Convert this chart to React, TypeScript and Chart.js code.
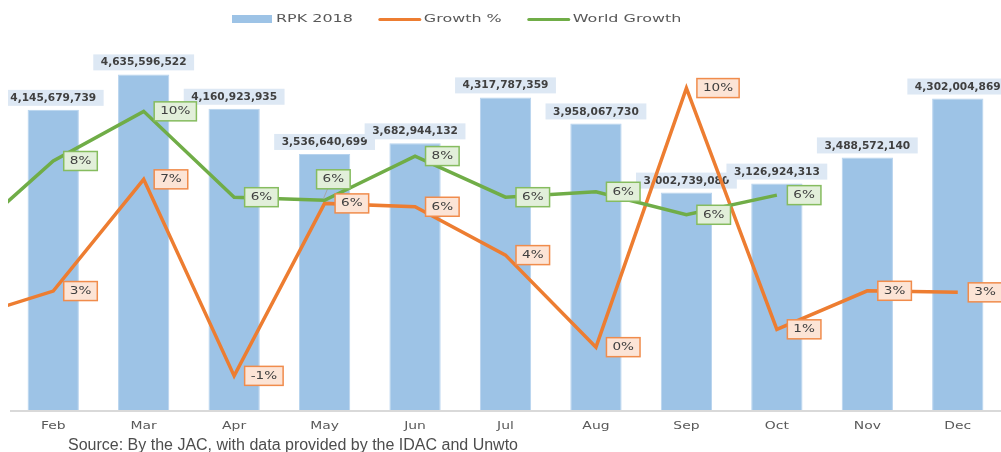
import React, { useEffect, useRef } from "react";
import { Chart, registerables } from "chart.js";

Chart.register(...registerables);

// Months shown on the category axis.
const months = ["Feb", "Mar", "Apr", "May", "Jun", "Jul", "Aug", "Sep", "Oct", "Nov", "Dec"];
// The growth lines start one month earlier, so the segment entering from the left edge is drawn.
const lineMonths = ["Jan", ...months];

const rpk2018 = [
  4145679739, 4635596522, 4160923935, 3536640699, 3682944132, 4317787359,
  3958067730, 3002739080, 3126924313, 3488572140, 4302004869,
];
// Percent values, Jan..Dec
const growthPct = [1.5, 2.6, 6.92, -0.68, 5.99, 5.86, 3.99, 0.43, 10.45, 1.12, 2.61, 2.55];
// Percent values, Jan..Oct
const worldGrowthPct = [4.5, 7.63, 9.55, 6.23, 6.11, 7.82, 6.23, 6.44, 5.55, 6.31];

const legendLabels = ["RPK 2018", "Growth %", "World Growth"];
const sourceNote = "Source: By the JAC, with data provided by the IDAC and Unwto";

const BAR_BLUE = "#9dc3e6";
const ORANGE = "#ed7d31";
const GREEN = "#70ad47";
const TEXT_GREY = "#404040";
const LEGEND_GREY = "#595959";

// Label boxes that sit somewhere other than right of their point.
const labelNudges = [{ dataset: 2, index: 4, dx: -8, dy: -21, leader: true }];

function stretchedText(
  ctx: CanvasRenderingContext2D,
  text: string,
  x: number,
  y: number,
  font: string,
  color: string,
  sx: number,
  align: "left" | "center"
): number {
  ctx.save();
  ctx.font = font;
  ctx.fillStyle = color;
  ctx.textBaseline = "middle";
  ctx.textAlign = "left";
  const w = ctx.measureText(text).width * sx;
  const left = align === "center" ? x - w / 2 : x;
  ctx.translate(left, y);
  ctx.scale(sx, 1);
  ctx.fillText(text, 0, 0);
  ctx.restore();
  return w;
}

function textWidth(ctx: CanvasRenderingContext2D, text: string, font: string, sx: number) {
  ctx.save();
  ctx.font = font;
  const w = ctx.measureText(text).width * sx;
  ctx.restore();
  return w;
}

const decorations = {
  id: "decorations",
  beforeDatasetsDraw(chart: any) {
    const { ctx, chartArea } = chart;
    // category axis line
    ctx.save();
    ctx.strokeStyle = "#d9d9d9";
    ctx.lineWidth = 2;
    ctx.beginPath();
    ctx.moveTo(chartArea.left + 2, chartArea.bottom + 1);
    ctx.lineTo(chartArea.right, chartArea.bottom + 1);
    ctx.stroke();
    ctx.restore();
  },
  afterDatasetDraw(chart: any, args: any) {
    if (args.index !== 0) return;
    const { ctx } = chart;
    const font = "bold 10px 'DejaVu Sans'";
    const sx = 1.06;
    args.meta.data.forEach((bar: any, i: number) => {
      const text = rpk2018[i].toLocaleString("en-US");
      const w = textWidth(ctx, text, font, sx) + 15;
      const h = 16;
      const bottom = bar.y - 4;
      ctx.save();
      ctx.fillStyle = "#dde8f4";
      ctx.fillRect(bar.x - w / 2, bottom - h, w, h);
      ctx.restore();
      stretchedText(ctx, text, bar.x, bottom - h / 2 + 0.5, font, TEXT_GREY, sx, "center");
    });
  },
  afterDatasetsDraw(chart: any) {
    const { ctx, chartArea } = chart;
    const series = [
      { ds: 1, values: growthPct, stroke: "#f08c4c", fill: "#fce4d6" },
      { ds: 2, values: worldGrowthPct, stroke: "#86bc5f", fill: "#e2efda" },
    ];
    const font = "10px 'DejaVu Sans'";
    const sx = 1.36;
    series.forEach((s) => {
      const meta = chart.getDatasetMeta(s.ds);
      s.values.forEach((v, i) => {
        if (i === 0 || v === null) return;
        const pt = meta.data[i];
        if (!pt) return;
        const text = `${Math.round(v)}%`;
        const w = textWidth(ctx, text, font, sx) + 12;
        const h = 19;
        const nudge = labelNudges.find((n) => n.dataset === s.ds && n.index === i);
        const left = pt.x + (nudge ? nudge.dx : 10.5);
        const cy = pt.y + (nudge ? nudge.dy : 0);
        if (nudge && nudge.leader) {
          ctx.save();
          ctx.strokeStyle = "#a6a6a6";
          ctx.lineWidth = 1;
          ctx.beginPath();
          ctx.moveTo(pt.x - 1, pt.y - 2);
          ctx.lineTo(pt.x + 3, cy + h / 2);
          ctx.stroke();
          ctx.restore();
        }
        ctx.save();
        ctx.fillStyle = s.fill;
        ctx.strokeStyle = s.stroke;
        ctx.lineWidth = 1.5;
        ctx.fillRect(left, cy - h / 2, w, h);
        ctx.strokeRect(left, cy - h / 2, w, h);
        ctx.restore();
        stretchedText(ctx, text, left + w / 2, cy + 0.5, font, TEXT_GREY, sx, "center");
      });
    });

    // month labels under the axis
    const xScale = chart.scales.x;
    months.forEach((m, i) => {
      stretchedText(
        ctx, m, xScale.getPixelForValue(i), chartArea.bottom + 16,
        "9.8px 'DejaVu Sans'", LEGEND_GREY, 1.42, "center"
      );
    });

    // legend
    const lFont = "11px 'DejaVu Sans'";
    const lSx = 1.45;
    const ly = 19.5;
    let x = 224;
    ctx.save();
    ctx.fillStyle = BAR_BLUE;
    ctx.fillRect(x, 15, 40, 8);
    ctx.restore();
    x += 44;
    x += stretchedText(ctx, legendLabels[0], x, ly, lFont, LEGEND_GREY, lSx, "left");
    [
      { color: ORANGE, label: legendLabels[1] },
      { color: GREEN, label: legendLabels[2] },
    ].forEach((item) => {
      x += 27;
      ctx.save();
      ctx.strokeStyle = item.color;
      ctx.lineWidth = 3;
      ctx.lineCap = "round";
      ctx.beginPath();
      ctx.moveTo(x, ly);
      ctx.lineTo(x + 40, ly);
      ctx.stroke();
      ctx.restore();
      x += 44;
      x += stretchedText(ctx, item.label, x, ly, lFont, LEGEND_GREY, lSx, "left");
    });

    // source note
    ctx.save();
    ctx.font = "16px 'Liberation Sans', Arial, sans-serif";
    ctx.fillStyle = "#4d4d4d";
    ctx.textBaseline = "alphabetic";
    ctx.fillText(sourceNote, 60, 450);
    ctx.restore();
  },
};

export default function App() {
  const canvasRef = useRef<HTMLCanvasElement | null>(null);

  useEffect(() => {
    const canvas = canvasRef.current;
    if (!canvas) return;
    const chart = new Chart(canvas, {
      type: "bar",
      data: {
        labels: months,
        datasets: [
          {
            type: "bar",
            label: legendLabels[0],
            data: rpk2018,
            xAxisID: "x",
            yAxisID: "y",
            backgroundColor: BAR_BLUE,
            borderColor: "#b7d3ee",
            borderWidth: 1,
            grouped: false,
            barPercentage: 0.567,
            categoryPercentage: 1,
            order: 3,
          },
          {
            type: "line",
            label: legendLabels[1],
            data: growthPct.map((v, i) => ({ x: i, y: v, month: lineMonths[i] })),
            xAxisID: "x2",
            yAxisID: "y1",
            borderColor: ORANGE,
            borderWidth: 3.5,
            borderJoinStyle: "miter",
            pointRadius: 0,
            tension: 0,
            order: 2,
          },
          {
            type: "line",
            label: legendLabels[2],
            data: worldGrowthPct.map((v, i) => ({ x: i, y: v, month: lineMonths[i] })),
            xAxisID: "x2",
            yAxisID: "y1",
            borderColor: GREEN,
            borderWidth: 3.5,
            borderJoinStyle: "miter",
            pointRadius: 0,
            tension: 0,
            order: 1,
          },
        ],
      } as any,
      options: {
        responsive: false,
        maintainAspectRatio: false,
        animation: false,
        devicePixelRatio: 1,
        layout: { padding: { top: 48, bottom: 42, left: 0, right: 0 } },
        plugins: {
          legend: { display: false },
          tooltip: { enabled: false },
        },
        scales: {
          x: { type: "category", display: false, offset: true },
          x2: { type: "linear", display: false, offset: false, min: 0.5, max: 11.5 },
          y: { type: "linear", display: false, min: 0, max: 5000000000 },
          y1: { type: "linear", display: false, min: -2, max: 12 },
        },
      } as any,
      plugins: [decorations],
    });
    return () => chart.destroy();
  }, []);

  return (
    <div
      style={{
        position: "fixed",
        left: 0,
        top: 0,
        width: 1001,
        height: 452,
        overflow: "hidden",
        background: "#ffffff",
      }}
    >
      <canvas
        ref={canvasRef}
        width={995}
        height={452}
        style={{ position: "absolute", left: 8, top: 0, width: 995, height: 452 }}
      />
    </div>
  );
}
